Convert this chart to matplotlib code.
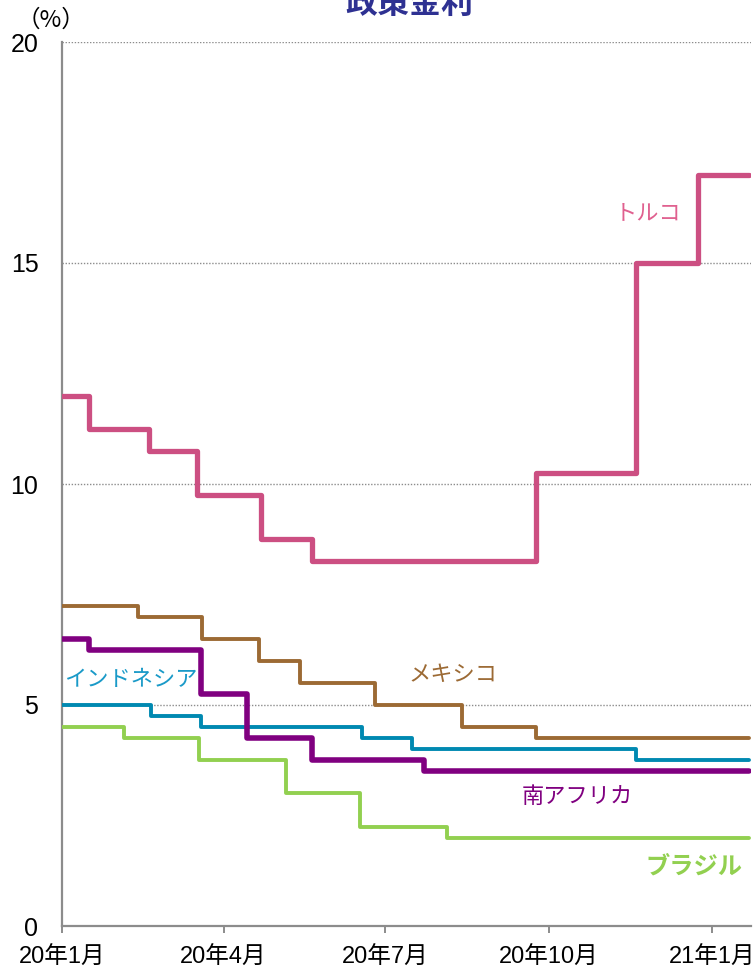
import numpy as np
import matplotlib
matplotlib.use('Agg')
import matplotlib.pyplot as plt

plt.rcParams['font.family'] = ['Liberation Sans', 'Noto Sans CJK JP', 'DejaVu Sans']

# policy rates (%), change dates
end_date = '2021-01-22'

turkey_dates = ['2020-01-01', '2020-01-16', '2020-02-19', '2020-03-17', '2020-04-22',
                '2020-05-21', '2020-09-24', '2020-11-19', '2020-12-24']
turkey_rates = [12.00, 11.25, 10.75, 9.75, 8.75, 8.25, 10.25, 15.00, 17.00]

mexico_dates = ['2020-01-01', '2020-02-13', '2020-03-20', '2020-04-21', '2020-05-14',
                '2020-06-25', '2020-08-13', '2020-09-24']
mexico_rates = [7.25, 7.00, 6.50, 6.00, 5.50, 5.00, 4.50, 4.25]

safrica_dates = ['2020-01-01', '2020-01-16', '2020-03-19', '2020-04-14', '2020-05-21',
                 '2020-07-23']
safrica_rates = [6.50, 6.25, 5.25, 4.25, 3.75, 3.50]

indonesia_dates = ['2020-01-01', '2020-02-20', '2020-03-19', '2020-06-18', '2020-07-16',
                   '2020-11-19']
indonesia_rates = [5.00, 4.75, 4.50, 4.25, 4.00, 3.75]

brazil_dates = ['2020-01-01', '2020-02-05', '2020-03-18', '2020-05-06', '2020-06-17',
                '2020-08-05']
brazil_rates = [4.50, 4.25, 3.75, 3.00, 2.25, 2.00]

tick_dates = ['2020-01-01', '2020-04-01', '2020-07-01', '2020-10-01', '2021-01-01']
tick_labels = ['20年1月', '20年4月', '20年7月', '20年10月', '21年1月']


def stepped(dates, rates):
    d = np.array(dates + [end_date], dtype='datetime64[D]')
    r = np.array(rates + [rates[-1]])
    return d, r


fig = plt.figure(figsize=[7.56, 9.68], dpi=100)
ax = fig.add_axes([62 / 756, 42 / 968, 689 / 756, 884 / 968])

series = [
    (mexico_dates, mexico_rates, '#9C6A34', 2.8),
    (indonesia_dates, indonesia_rates, '#0089B1', 2.8),
    (brazil_dates, brazil_rates, '#92D050', 2.8),
    (safrica_dates, safrica_rates, '#800080', 4.0),
    (turkey_dates, turkey_rates, '#CC4F82', 3.8),
]
for dates, rates, color, lw in series:
    x, y = stepped(dates, rates)
    ax.step(x, y, where='post', color=color, lw=lw, solid_capstyle='round',
            solid_joinstyle='round', zorder=3)

ax.set_ylim(0, 20)
ax.set_xlim(np.datetime64('2020-01-01'), np.datetime64(end_date) + np.timedelta64(1, 'D'))
ax.set_yticks([0, 5, 10, 15, 20])
ax.set_yticklabels(['0', '5', '10', '15', '20'])
ax.set_xticks(np.array(tick_dates, dtype='datetime64[D]'))
ax.set_xticklabels(tick_labels)

for v in [5, 10, 15, 20]:
    ax.axhline(v, color='#8c8c8c', lw=1.0, ls=(0, (1, 1.2)), zorder=1)

for s in ['top', 'right']:
    ax.spines[s].set_visible(False)
for s in ['left', 'bottom']:
    ax.spines[s].set_color('#8c8c8c')
    ax.spines[s].set_linewidth(1.6)

ax.tick_params(axis='y', length=0, pad=17, labelsize=18)
ax.tick_params(axis='x', length=5, width=1.4, color='#8c8c8c', direction='out',
               pad=10, labelsize=17)

# series labels
jp = ['Noto Sans CJK JP', 'DejaVu Sans']
ax.text(np.datetime64('2020-11-26'), 16.15, 'トルコ', color='#E0608F', fontsize=16,
        ha='center', va='center', family=jp)
ax.text(np.datetime64('2020-08-08'), 5.7, 'メキシコ', color='#9C6A34', fontsize=16,
        ha='center', va='center', family=jp)
ax.text(np.datetime64('2020-02-09'), 5.57, 'インドネシア', color='#1A9AC8', fontsize=16,
        ha='center', va='center', family=jp)
ax.text(np.datetime64('2020-10-17'), 2.93, '南アフリカ', color='#800080', fontsize=16,
        ha='center', va='center', family=jp)
ax.text(np.datetime64('2020-12-22'), 1.34, 'ブラジル', color='#92D050', fontsize=17.5,
        fontweight='bold', ha='center', va='center', family=jp)

fig.text(51 / 756, 1 - 20 / 968, '（%）', fontsize=17, ha='center', va='center', family=jp)
fig.text(409 / 756, 1 - 4 / 968, '政策金利', fontsize=23, fontweight='bold', color='#2E3192',
         ha='center', va='center', family=jp)

fig.savefig('out.png', dpi=100)
